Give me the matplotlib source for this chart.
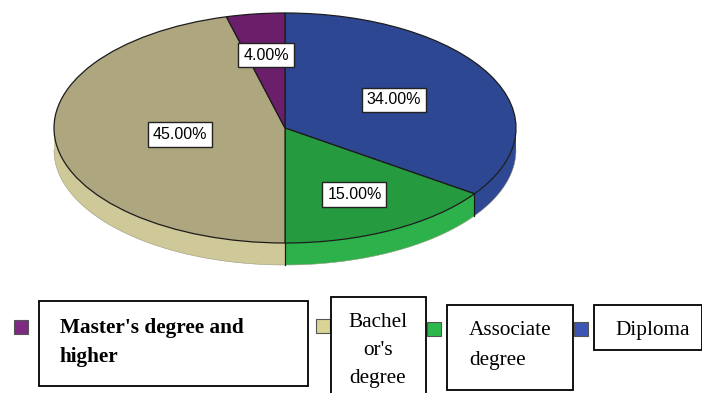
import numpy as np
import matplotlib
matplotlib.use("Agg")
import matplotlib.pyplot as plt
from matplotlib.patches import Polygon, Rectangle

# Education level shares (percent), clockwise from 12 o'clock
categories = ["Diploma", "Associate degree", "Bachelor's degree", "Master's degree and higher"]
values = [34.0, 15.0, 45.0, 4.0]
top_colors = ["#2E4793", "#269A3E", "#ADA67F", "#6B1F6B"]
side_colors = ["#2F4894", "#2DB24B", "#CFC898", "#6B1F6B"]
marker_colors = ["#3C56B5", "#2DB84D", "#D9D396", "#7E2A82"]
label_dist = [0.53, 0.65, 0.46, 0.64]

# Legend text blocks (drawn as framed boxes)
legend_lines = [
    ["Diploma"],
    ["Associate", "degree"],
    ["Bachel", "or's", "degree"],
    ["Master's degree and", "higher"],
]

W, H = 702, 393
fig = plt.figure(figsize=(W / 100, H / 100), dpi=100)
fig.patch.set_facecolor("white")

# Pie axes: a unit circle squashed vertically to look tilted
ax = fig.add_axes([54 / W, (H - 243) / H, 462 / W, 230 / H])
wedges, _ = ax.pie(values, colors=top_colors, startangle=90, counterclock=False,
                   wedgeprops=dict(edgecolor="#1c1c1c", linewidth=0.9))
ax.set_aspect("auto")
ax.set_xlim(-1, 1)
ax.set_ylim(-1, 1)
ax.axis("off")
for w in wedges:
    w.set_zorder(3)

depth = 22 / 115.0


def front_span(t1, t2):
    """Part of [t1, t2] (deg) lying on the front half of the disc."""
    spans = []
    for k in range(-3, 3):
        lo, hi = -180 + 360 * k, 0 + 360 * k
        a, b = max(t1, lo), min(t2, hi)
        if b > a:
            spans.append((a, b))
    return spans


boundaries = []
for w, sc in zip(wedges, side_colors):
    for a, b in front_span(w.theta1, w.theta2):
        t = np.radians(np.linspace(a, b, 200))
        xs, ys = np.cos(t), np.sin(t)
        pts = np.vstack([np.column_stack([xs, ys]),
                         np.column_stack([xs[::-1], ys[::-1] - depth])])
        ax.add_patch(Polygon(pts, closed=True, facecolor=sc, edgecolor="none",
                             zorder=1, clip_on=False))
        ax.plot(xs, ys - depth, color="#9a9a80", lw=0.4, zorder=2, clip_on=False)
    for th in (w.theta1, w.theta2):
        s = np.sin(np.radians(th))
        if s < -0.01:
            boundaries.append(th)

for th in set(np.round(boundaries, 6)):
    x, y = np.cos(np.radians(th)), np.sin(np.radians(th))
    ax.plot([x, x], [y, y - depth], color="#1c1c1c", lw=0.9, zorder=2, clip_on=False)

# Percentage labels
for w, v, r in zip(wedges, values, label_dist):
    mid = np.radians((w.theta1 + w.theta2) / 2)
    ax.text(r * np.cos(mid), r * np.sin(mid), f"{v:.2f}%", ha="center", va="center",
            fontsize=11.5, family="Liberation Sans", zorder=5,
            bbox=dict(boxstyle="square,pad=0.3", facecolor="white",
                      edgecolor="#222222", linewidth=1.0))

# Legend drawn in pixel coordinates
lg = fig.add_axes([0, 0, 1, 1], zorder=4)
lg.set_xlim(0, W)
lg.set_ylim(H, 0)
lg.axis("off")
lg.patch.set_alpha(0)

marker_xy = [(581, 329), (434, 329), (323, 326), (21, 327)]
boxes = [(594, 305, 108, 45), (447, 305, 126, 85), (331, 297, 95, 110), (39, 301, 269, 85)]
text_xy = [(615, [335], "left"), (469, [335, 365], "left"),
           (378, [327, 355, 383], "center"), (60, [333, 362], "left")]
weights = ["normal", "normal", "normal", "bold"]

for i, cat in enumerate(categories):
    mx, my = marker_xy[i]
    lg.add_patch(Rectangle((mx - 7, my - 7), 14, 14, facecolor=marker_colors[i],
                           edgecolor="#555555", linewidth=0.8))
    bx, by, bw, bh = boxes[i]
    lg.add_patch(Rectangle((bx, by), bw, bh, facecolor="white", edgecolor="black",
                           linewidth=1.3))
    tx, tys, ha = text_xy[i]
    for line, ty in zip(legend_lines[i], tys):
        lg.text(tx, ty, line, ha=ha, va="baseline", fontsize=15.3,
                family="Liberation Serif", fontweight=weights[i], color="black")

fig.savefig("out.png", dpi=100, facecolor="white")
